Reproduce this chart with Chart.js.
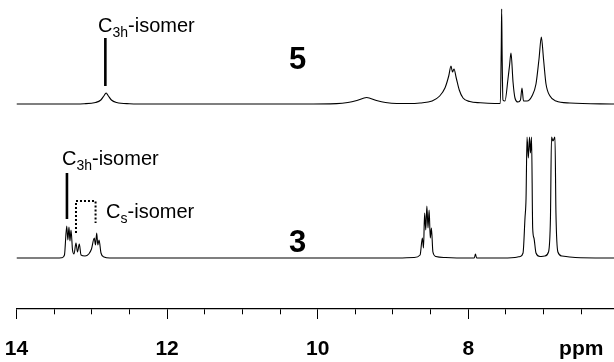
<!DOCTYPE html>
<html>
<head>
<meta charset="utf-8">
<script src="https://cdn.jsdelivr.net/npm/chart.js@4.4.1/dist/chart.umd.min.js"></script>
<style>
  html, body { margin: 0; padding: 0; background: #fff; }
</style>
</head>
<body>
<canvas id="nmrChart" width="614" height="362"></canvas>
<script>
// ppm range shown (axis is reversed, 14 on the left)
var ppmLeft = 14.0;
var ppmRight = 6.065;

var majorTicks = [14, 12, 10, 8];
var minorTicks = [13.5, 13, 12.5, 11.5, 11, 10.5, 9.5, 9, 8.5, 7.5, 7, 6.5];
var unitTick = 6.5;
var unitLabel = 'ppm';

// baselines of the two traces (intensity units)
var topBase = 205;
var bottomBase = 51;

// spectrum 5: [ppm, intensity]
var spectrum5 = [
  [14.0, 0], [13.4, 0], [13.1, 0.3], [12.95, 1.5], [12.88, 4], [12.84, 8], [12.81, 11],
  [12.78, 8], [12.74, 4], [12.67, 1.5], [12.5, 0.3], [12.2, 0],
  [10.2, 0], [9.75, 0.4], [9.6, 1.5], [9.48, 3.5], [9.35, 6.5], [9.22, 3.5], [9.1, 1.5],
  [8.95, 0.5], [8.8, 0.5],
  [8.64, 1], [8.48, 3], [8.38, 8], [8.31, 16], [8.26, 28], [8.23, 38], [8.21, 32], [8.19, 35],
  [8.16, 26], [8.12, 14], [8.07, 6], [7.98, 2.5], [7.84, 1.2], [7.65, 0.5],
  [7.575, 0.5], [7.562, 58], [7.557, 95], [7.551, 52], [7.54, 4], [7.513, 3], [7.473, 25],
  [7.453, 38], [7.433, 51], [7.406, 22], [7.38, 6], [7.34, 2], [7.307, 4], [7.287, 16],
  [7.267, 3], [7.22, 3], [7.154, 8], [7.101, 20], [7.061, 45], [7.03, 67], [7.001, 45],
  [6.968, 20], [6.915, 8], [6.835, 3], [6.65, 1], [6.065, 0]
];

// spectrum 3: [ppm, intensity]
var spectrum3 = [
  [14.0, 0], [13.45, 0], [13.396, 0.3], [13.363, 3], [13.333, 32], [13.318, 18], [13.303, 31],
  [13.29, 17], [13.276, 28], [13.256, 8], [13.236, 4], [13.21, 15], [13.19, 6], [13.166, 14],
  [13.143, 3], [13.09, 2], [13.04, 4], [13.004, 9], [12.967, 20], [12.951, 13], [12.935, 25],
  [12.92, 13], [12.904, 18], [12.878, 5], [12.838, 1], [12.76, 0],
  [9.0, 0], [8.72, 0.5], [8.64, 3], [8.61, 20], [8.595, 10], [8.58, 45], [8.565, 28],
  [8.55, 52], [8.535, 30], [8.52, 48], [8.505, 20], [8.49, 30], [8.47, 6], [8.43, 1.5],
  [8.3, 0.5], [8.0, 0], [7.92, 0], [7.905, 4], [7.89, 0], [7.6, 0],
  [7.38, 0.5], [7.313, 1.5], [7.273, 5], [7.247, 40], [7.233, 60], [7.22, 121], [7.203, 100],
  [7.187, 121], [7.174, 105], [7.16, 121], [7.145, 30], [7.128, 20], [7.101, 5], [7.048, 1.5],
  [6.985, 2], [6.935, 6], [6.909, 40], [6.895, 121], [6.876, 117], [6.849, 121], [6.836, 45],
  [6.81, 6], [6.756, 2], [6.58, 0.5], [6.065, 0]
];

// marker lines: ppm, from, to (intensity above the trace's baseline)
var topMarker = { ppm: 12.82, from: 18, to: 66 };
var bottomMarker = { ppm: 13.33, from: 39, to: 85 };
var csBracket = { left: 13.21, right: 12.95, leftFrom: 25, rightFrom: 35, top: 57 };

function toPoints(spec, base) {
  return spec.map(function (p) { return { x: p[0], y: p[1] + base }; });
}

var font = '"Liberation Sans", Arial, Helvetica, sans-serif';

function drawIsomer(ctx, x, y, head, sub, tail) {
  ctx.font = '20px ' + font;
  ctx.fillText(head, x, y);
  x += ctx.measureText(head).width;
  ctx.font = '14px ' + font;
  ctx.fillText(sub, x, y + 5);
  x += ctx.measureText(sub).width;
  ctx.font = '20px ' + font;
  ctx.fillText(tail, x, y);
}

var annotations = {
  id: 'annotations',
  afterDatasetsDraw: function (chart) {
    var ctx = chart.ctx;
    var xs = chart.scales.x, ys = chart.scales.y;
    var px = function (v) { return xs.getPixelForValue(v); };
    var py = function (v, base) { return ys.getPixelForValue(v + base); };
    ctx.save();
    ctx.strokeStyle = '#000';
    ctx.fillStyle = '#000';
    ctx.textBaseline = 'alphabetic';
    ctx.textAlign = 'left';

    // solid pointer lines
    ctx.lineWidth = 2.6;
    ctx.beginPath();
    ctx.moveTo(px(topMarker.ppm), py(topMarker.from, topBase));
    ctx.lineTo(px(topMarker.ppm), py(topMarker.to, topBase));
    ctx.moveTo(px(bottomMarker.ppm), py(bottomMarker.from, bottomBase));
    ctx.lineTo(px(bottomMarker.ppm), py(bottomMarker.to, bottomBase));
    ctx.stroke();

    // dotted bracket for the Cs isomer
    ctx.lineWidth = 2;
    ctx.setLineDash([2, 2]);
    ctx.beginPath();
    ctx.moveTo(px(csBracket.left), py(csBracket.leftFrom, bottomBase));
    ctx.lineTo(px(csBracket.left), py(csBracket.top, bottomBase));
    ctx.lineTo(px(csBracket.right), py(csBracket.top, bottomBase));
    ctx.lineTo(px(csBracket.right), py(csBracket.rightFrom, bottomBase));
    ctx.stroke();
    ctx.setLineDash([]);

    drawIsomer(ctx, px(12.917), py(72, topBase), 'C', '3h', '-isomer');
    drawIsomer(ctx, px(13.396), py(93, bottomBase), 'C', '3h', '-isomer');
    drawIsomer(ctx, px(12.81), py(40, bottomBase), 'C', 's', '-isomer');

    ctx.font = 'bold 31px ' + font;
    ctx.fillText('5', px(10.38), py(35, topBase));
    ctx.fillText('3', px(10.38), py(6, bottomBase));
    ctx.restore();
  }
};

var nmrPlot = new Chart(document.getElementById('nmrChart'), {
  type: 'line',
  data: {
    datasets: [{
      label: '5',
      data: toPoints(spectrum5, topBase),
      borderColor: '#000',
      borderWidth: 1.1,
      pointRadius: 0,
      cubicInterpolationMode: 'monotone'
    }, {
      label: '3',
      data: toPoints(spectrum3, bottomBase),
      borderColor: '#000',
      borderWidth: 1.1,
      pointRadius: 0,
      cubicInterpolationMode: 'monotone'
    }]
  },
  options: {
    responsive: false,
    animation: false,
    layout: { padding: { left: 16.5, right: 0, top: 0, bottom: 0 } },
    plugins: { legend: { display: false }, tooltip: { enabled: false } },
    scales: {
      x: {
        type: 'linear',
        reverse: true,
        min: ppmRight,
        max: ppmLeft,
        afterBuildTicks: function (s) {
          s.ticks = majorTicks.concat(minorTicks).sort(function (a, b) { return a - b; })
            .map(function (v) { return { value: v }; });
        },
        afterFit: function (s) { s.height = 53; },
        border: { display: true, color: '#000', width: 1.3 },
        grid: {
          drawOnChartArea: false,
          drawTicks: true,
          tickLength: 10,
          tickColor: '#000',
          tickWidth: 1,
          tickBorderDash: function (c) {
            return (c.tick && majorTicks.indexOf(c.tick.value) >= 0) ? [] : [5, 40];
          }
        },
        ticks: {
          autoSkip: false,
          maxRotation: 0,
          padding: 18,
          color: '#000',
          font: { family: font, size: 21, weight: 'bold' },
          callback: function (v) {
            if (majorTicks.indexOf(v) >= 0) return String(v);
            if (v === unitTick) return unitLabel;
            return '';
          }
        }
      },
      y: {
        display: false,
        min: 0,
        max: 309
      }
    }
  },
  plugins: [annotations]
});
</script>
</body>
</html>
